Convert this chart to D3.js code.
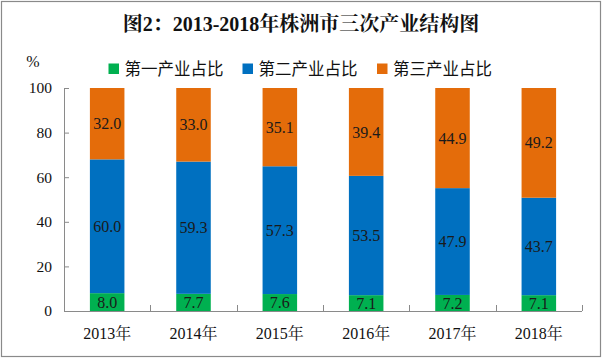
<!DOCTYPE html>
<html><head><meta charset="utf-8">
<script src="https://cdn.jsdelivr.net/npm/d3@7"></script>
<style>body{margin:0;background:#fff;} svg{display:block;}</style>
</head><body>
<script>
const years = ["2013年","2014年","2015年","2016年","2017年","2018年"];
const primary = [8.0, 7.7, 7.6, 7.1, 7.2, 7.1];
const secondary = [60.0, 59.3, 57.3, 53.5, 47.9, 43.7];
const tertiary = [32.0, 33.0, 35.1, 39.4, 44.9, 49.2];
const seriesNames = ["第一产业占比","第二产业占比","第三产业占比"];
const yTicks = [0, 20, 40, 60, 80, 100];
const title = "图2：2013-2018年株洲市三次产业结构图";

const colors = ["#00B050", "#0070C0", "#E46C0A"];
const W = 602, H = 358;
const svg = d3.select("body").append("svg").attr("width", W).attr("height", H);
svg.append("rect").attr("x",1.5).attr("y",1.5).attr("width",599).attr("height",355)
  .attr("fill","#fff").attr("stroke","#8a8a8a").attr("stroke-width",1.2);

const serif = "'Liberation Serif','Times New Roman',serif";
const cjk = "'Noto Sans CJK SC','Noto Sans',sans-serif";
const mixed = "'Liberation Serif','Noto Serif CJK SC','Noto Sans CJK SC',serif";

svg.append("text").attr("x", 301).attr("y", 31).attr("text-anchor","middle")
  .attr("font-family", mixed)
  .attr("font-weight","bold").attr("font-size",20).attr("fill","#111").text(title);

const x = d3.scaleBand().domain(years).range([64, 582]).paddingInner(0.6).paddingOuter(0.3);
const y = d3.scaleLinear().domain([0,100]).range([311, 88]);

const data = years.map((yr,i)=>({year:yr, s0:primary[i], s1:secondary[i], s2:tertiary[i]}));
const stack = d3.stack().keys(["s0","s1","s2"])(data);

stack.forEach((layer, k) => {
  const g = svg.append("g");
  g.selectAll("rect").data(layer).join("rect")
    .attr("x", d => x(d.data.year)).attr("width", x.bandwidth())
    .attr("y", d => y(d[1])).attr("height", d => y(d[0]) - y(d[1]))
    .attr("fill", colors[k]);
  g.selectAll("text").data(layer).join("text")
    .attr("x", d => x(d.data.year) + x.bandwidth()/2)
    .attr("y", d => (y(d[0]) + y(d[1]))/2)
    .attr("dy","0.35em").attr("text-anchor","middle")
    .attr("font-family", serif).attr("font-size",16).attr("fill","#1a1a1a")
    .text(d => (d[1]-d[0]).toFixed(1));
});

// y axis
const yAxis = svg.append("g").attr("transform","translate(64,0)")
  .call(d3.axisRight(y).tickValues(yTicks).tickSize(5).tickFormat(""));
yAxis.select(".domain").attr("stroke","#8a8a8a").attr("d","M0.5,88V311.5");
yAxis.selectAll(".tick line").attr("stroke","#8a8a8a");
svg.append("g").selectAll("text").data(yTicks).join("text")
  .attr("x", 52).attr("y", d => y(d)).attr("dy","0.35em").attr("text-anchor","end")
  .attr("font-family", serif).attr("font-size",15.5).attr("fill","#111").text(d=>d);

// x axis
const xAxis = svg.append("g").attr("transform","translate(0,311)")
  .call(d3.axisBottom(x).tickSize(0).tickFormat(""));
xAxis.select(".domain").attr("stroke","#8a8a8a").attr("d","M64,0.5H582");
const bounds = d3.range(1, years.length+1).map(i => 64 + i*(518/years.length));
svg.append("g").selectAll("line").data(bounds).join("line")
  .attr("x1", d=>Math.round(d)+0.5).attr("x2", d=>Math.round(d)+0.5)
  .attr("y1", 305).attr("y2", 311).attr("stroke","#8a8a8a");
svg.append("g").selectAll("text").data(years).join("text")
  .attr("x", d => x(d) + x.bandwidth()/2).attr("y", 339).attr("text-anchor","middle")
  .attr("font-family", mixed)
  .attr("font-size",16).attr("fill","#111").text(d=>d);

svg.append("text").attr("x", 33).attr("y", 67).attr("text-anchor","middle")
  .attr("font-family", serif).attr("font-size",16).attr("fill","#111").text("%");

// legend
const legX = [108.5, 242.5, 377];
const lg = svg.append("g");
seriesNames.forEach((n,i) => {
  lg.append("rect").attr("x", legX[i]).attr("y", 63.5).attr("width", 10.5).attr("height", 10.5).attr("fill", colors[i]);
  lg.append("text").attr("x", legX[i]+16).attr("y", 69).attr("dy","0.35em")
    .attr("font-family", cjk).attr("font-size",16.5).attr("fill","#111").text(n);
});
</script>
</body></html>
